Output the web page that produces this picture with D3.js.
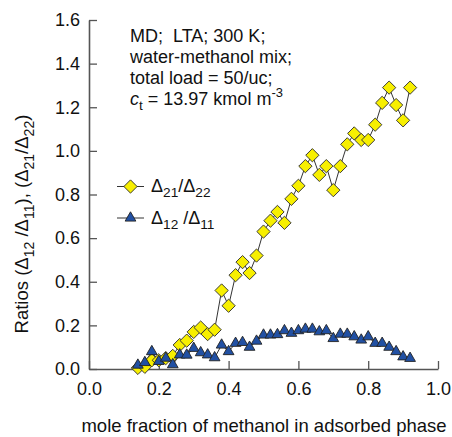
<!DOCTYPE html>
<html>
<head>
<meta charset="utf-8">
<script src="https://cdn.jsdelivr.net/npm/d3@7"></script>
<style>
  body { margin: 0; background: #fff; }
  svg { font-family: "Liberation Sans", Arial, sans-serif; }
</style>
</head>
<body>
<div id="chart"></div>
<script>
// mole fraction of methanol in adsorbed phase
var xMeoh = [0.14, 0.16, 0.18, 0.20, 0.22, 0.24, 0.26, 0.28, 0.30, 0.32,
             0.34, 0.36, 0.38, 0.40, 0.42, 0.44, 0.46, 0.48, 0.50, 0.52,
             0.54, 0.56, 0.58, 0.60, 0.62, 0.64, 0.66, 0.68, 0.70, 0.72,
             0.74, 0.76, 0.78, 0.80, 0.82, 0.84, 0.86, 0.88, 0.90, 0.92];
// D21/D22
var ratio21 = [0.005, 0.01, 0.04, 0.04, 0.05, 0.06, 0.11, 0.13, 0.17, 0.19,
               0.16, 0.18, 0.36, 0.29, 0.43, 0.49, 0.44, 0.52, 0.63, 0.68,
               0.72, 0.67, 0.78, 0.84, 0.93, 0.98, 0.89, 0.93, 0.82, 0.93,
               1.03, 1.08, 1.05, 1.05, 1.12, 1.22, 1.29, 1.21, 1.14, 1.29];
// D12/D11
var ratio12 = [0.018, 0.03, 0.08, 0.035, 0.05, 0.02, 0.065, 0.064, 0.095, 0.075,
               0.065, 0.052, 0.11, 0.08, 0.118, 0.122, 0.10, 0.128, 0.156, 0.156,
               0.158, 0.176, 0.164, 0.176, 0.183, 0.183, 0.171, 0.176, 0.14, 0.16,
               0.16, 0.148, 0.133, 0.148, 0.118, 0.118, 0.10, 0.08, 0.056, 0.049];

var xMajor = [0, 0.2, 0.4, 0.6, 0.8, 1.0];
var yMajor = [0, 0.2, 0.4, 0.6, 0.8, 1.0, 1.2, 1.4, 1.6];

var W = 452, H = 437;
var svg = d3.select("#chart").append("svg")
    .attr("width", W)
    .attr("height", H);

var xScale = d3.scaleLinear().domain([0, 1]).range([89, 438]);
var yScale = d3.scaleLinear().domain([0, 1.6]).range([369, 20]);

var axisCol = "#555";

// x axis, ticks pointing inward
var minorX = d3.range(0, 41).map(function(i){ return i * 0.04; }).filter(function(v){ return v <= 1.0001; });
var gx = svg.append("g").attr("transform", "translate(0,369)");
gx.call(d3.axisBottom(xScale).tickValues(minorX).tickSizeInner(-5).tickSizeOuter(0).tickFormat(""));
gx.call(d3.axisBottom(xScale).tickValues(xMajor).tickSizeInner(-8).tickSizeOuter(0)
    .tickPadding(13).tickFormat(d3.format(".1f")));

var minorY = d3.range(0, 41).map(function(i){ return i * 0.04; });
var gy = svg.append("g").attr("transform", "translate(89,0)");
gy.call(d3.axisLeft(yScale).tickValues(minorY).tickSizeInner(-6).tickSizeOuter(0).tickFormat(""));
gy.call(d3.axisLeft(yScale).tickValues(yMajor).tickSizeInner(-8).tickSizeOuter(0)
    .tickPadding(9).tickFormat(d3.format(".1f")));

svg.selectAll(".domain").attr("stroke", axisCol).attr("stroke-width", 1.6);
svg.selectAll(".tick line").attr("stroke", axisCol).attr("stroke-width", 1.3);
svg.selectAll(".tick text").attr("font-size", 18).attr("fill", "#111")
    .attr("font-family", "Liberation Sans, Arial, sans-serif");

// series
var s21 = xMeoh.map(function(d, i){ return {x: d, y: ratio21[i]}; });
var s12 = xMeoh.map(function(d, i){ return {x: d, y: ratio12[i]}; });

var lineGen = d3.line()
    .x(function(d){ return xScale(d.x); })
    .y(function(d){ return yScale(d.y); });

var diamond = d3.symbol().type(d3.symbolSquare).size(88);
var triangle = d3.symbol().type(d3.symbolTriangle).size(50);

svg.append("path").datum(s21).attr("d", lineGen)
    .attr("fill", "none").attr("stroke", "#333").attr("stroke-width", 1);
svg.append("path").datum(s12).attr("d", lineGen)
    .attr("fill", "none").attr("stroke", "#333").attr("stroke-width", 1);

svg.selectAll(".dia").data(s21).enter().append("path")
    .attr("class", "dia")
    .attr("d", diamond)
    .attr("transform", function(d){ return "translate(" + xScale(d.x) + "," + yScale(d.y) + ") rotate(45)"; })
    .attr("fill", "#f7ef00").attr("stroke", "#333").attr("stroke-width", 0.9);

svg.selectAll(".tri").data(s12).enter().append("path")
    .attr("class", "tri")
    .attr("d", triangle)
    .attr("transform", function(d){ return "translate(" + xScale(d.x) + "," + yScale(d.y) + ")"; })
    .attr("fill", "#2150a3").attr("stroke", "#222").attr("stroke-width", 0.9);

// legend
var leg = svg.append("g");
leg.append("line").attr("x1", 117).attr("x2", 144).attr("y1", 186.5).attr("y2", 186.5)
    .attr("stroke", "#333").attr("stroke-width", 1);
leg.append("path").attr("d", diamond)
    .attr("transform", "translate(130.5,186.5) rotate(45)")
    .attr("fill", "#f7ef00").attr("stroke", "#333").attr("stroke-width", 0.9);
leg.append("line").attr("x1", 117).attr("x2", 144).attr("y1", 218).attr("y2", 218)
    .attr("stroke", "#333").attr("stroke-width", 1);
leg.append("path").attr("d", triangle)
    .attr("transform", "translate(130.5,218)")
    .attr("fill", "#2150a3").attr("stroke", "#222").attr("stroke-width", 0.9);

function subText(g, parts, x, y, size) {
  var t = g.append("text").attr("x", x).attr("y", y).attr("font-size", size).attr("fill", "#111");
  parts.forEach(function(p){
    var ts = t.append("tspan").text(p[0]);
    if (p[1] == "sub") ts.attr("font-size", size * 0.76).attr("dy", size * 0.3);
    else if (p[1] == "sup") ts.attr("font-size", size * 0.72).attr("dy", -size * 0.45);
    else if (p[1] == "back") ts.attr("dy", -size * 0.3);
    if (p[2]) ts.attr("font-style", "italic");
  });
  return t;
}

subText(leg, [["\u0394"], ["21", "sub"], ["/\u0394", "back"], ["22", "sub"]], 151, 192, 18);
subText(leg, [["\u0394"], ["12", "sub"], [" /\u0394", "back"], ["11", "sub"]], 151, 224, 18);

// annotation
var ann = svg.append("g");
ann.append("text").attr("x", 130).attr("y", 42).attr("font-size", 18).attr("fill", "#111")
    .attr("xml:space", "preserve").text("MD;  LTA; 300 K;");
ann.append("text").attr("x", 130).attr("y", 63).attr("font-size", 18).attr("fill", "#111")
    .text("water-methanol mix;");
ann.append("text").attr("x", 130).attr("y", 84).attr("font-size", 18).attr("fill", "#111")
    .text("total load = 50/uc;");
subText(ann, [["c", null, true], ["t", "sub"], [" = 13.97 kmol m", "back"], ["-3", "sup"]], 130, 105, 18);

// axis titles
svg.append("text").attr("x", 264).attr("y", 432).attr("text-anchor", "middle")
    .attr("font-size", 18.5).attr("fill", "#111")
    .text("mole fraction of methanol in adsorbed phase");

var yt = subText(svg, [["Ratios (\u0394"], ["12", "sub"], [" /\u0394", "back"], ["11", "sub"],
    ["), (\u0394", "back"], ["21", "sub"], ["/\u0394", "back"], ["22", "sub"], [")", "back"]], 0, 0, 18.5);
yt.attr("text-anchor", "middle").attr("transform", "translate(28,224) rotate(-90)");
</script>
</body>
</html>
